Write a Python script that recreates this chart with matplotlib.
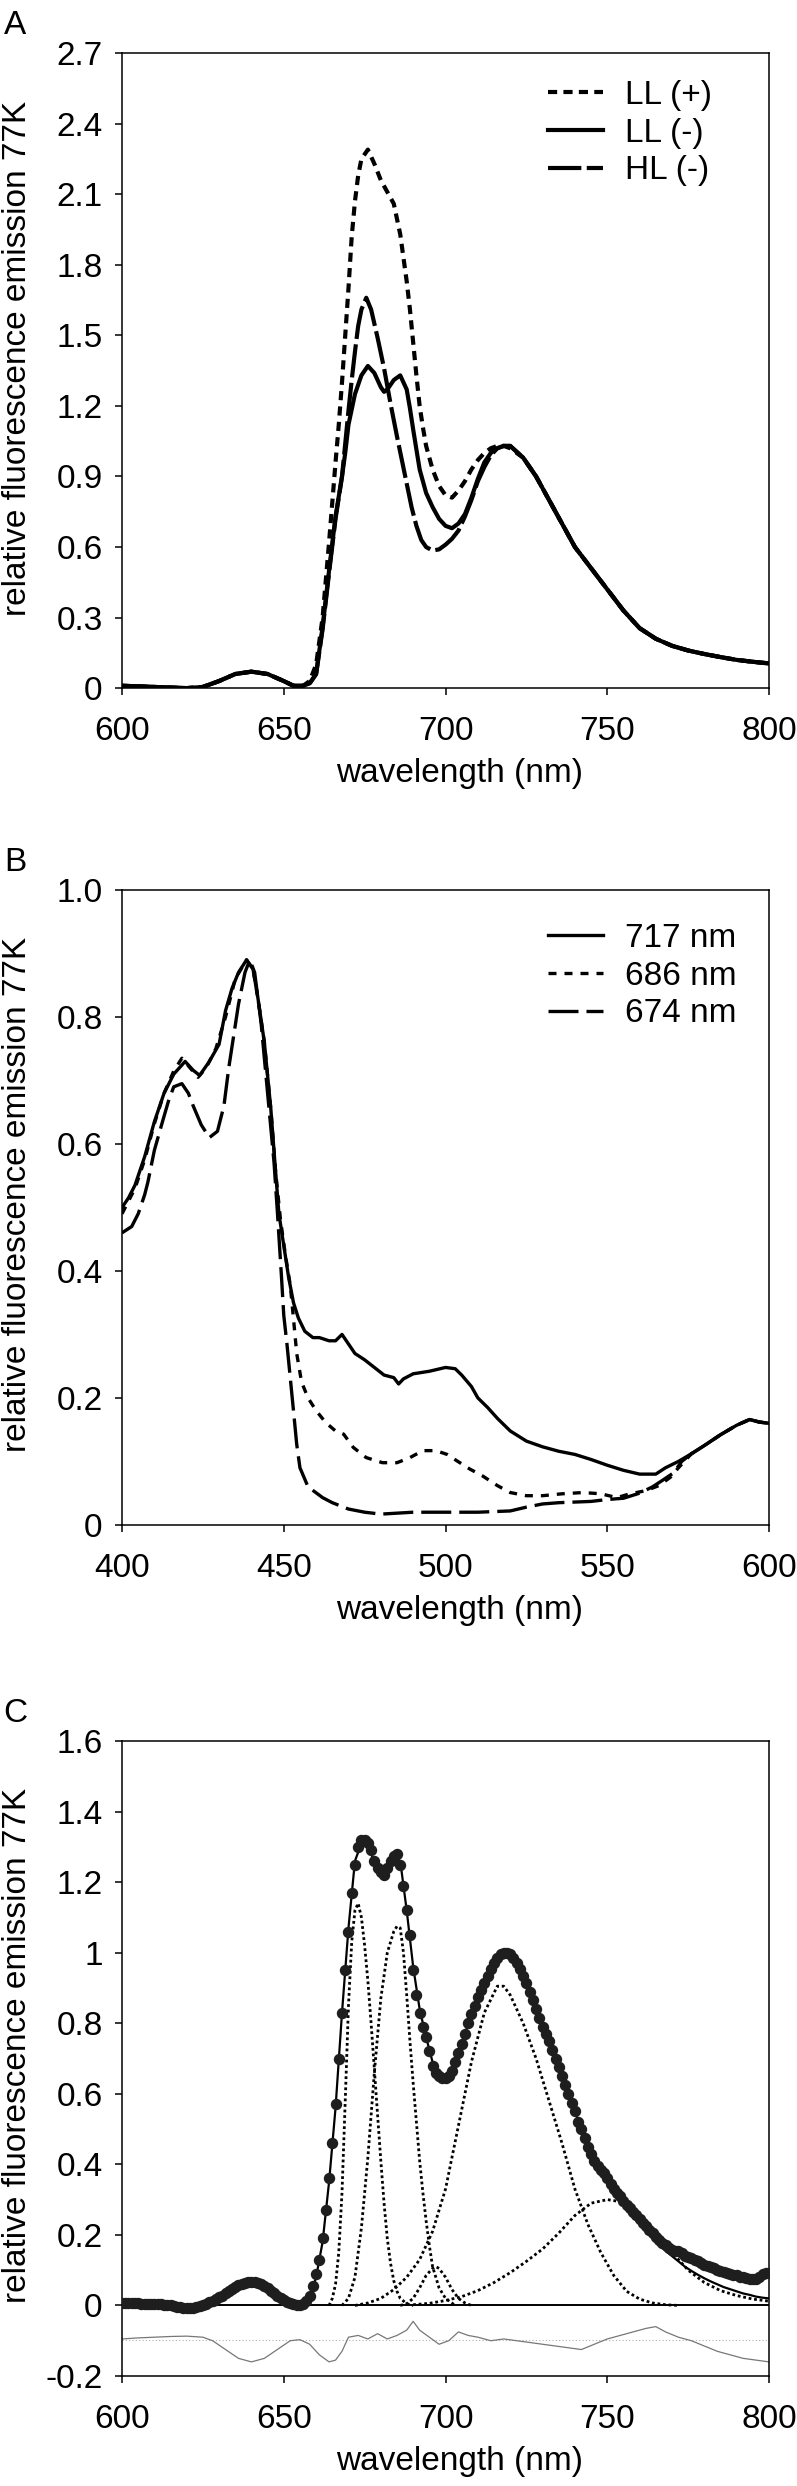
import matplotlib
matplotlib.use("Agg")
import matplotlib.pyplot as plt

plt.rcParams['font.family'] = ['Liberation Sans', 'DejaVu Sans']
FS = 24

# ---------------- Panel A data ----------------
a_llp_x = [600, 610, 620, 625, 630, 635, 640, 645, 650, 653, 656, 658, 660, 662, 664, 666, 667, 668, 669, 670,
           671, 672, 673, 674, 676, 678, 680, 682, 684, 686, 687, 688, 689, 690, 691, 692, 693, 694, 696, 698,
           700, 702, 704, 706, 708, 710, 712, 714, 716, 718, 720, 724, 728, 732, 736, 740, 745, 750, 755, 760,
           765, 770, 775, 780, 785, 790, 795, 800]
a_llp_y = [0.01, 0.005, 0.0, 0.005, 0.03, 0.06, 0.07, 0.06, 0.03, 0.01, 0.01, 0.03, 0.10, 0.30, 0.62, 0.96, 1.12, 1.30, 1.50, 1.70,
           1.92, 2.07, 2.18, 2.25, 2.29, 2.23, 2.16, 2.11, 2.06, 1.93, 1.83, 1.73, 1.61, 1.47, 1.33, 1.20, 1.11, 1.03, 0.93, 0.86,
           0.82, 0.81, 0.84, 0.88, 0.93, 0.97, 1.00, 1.02, 1.03, 1.03, 1.02, 0.98, 0.90, 0.80, 0.70, 0.60, 0.51, 0.42, 0.33, 0.255,
           0.21, 0.18, 0.16, 0.145, 0.132, 0.12, 0.112, 0.105]

a_llm_x = [600, 610, 620, 625, 630, 635, 640, 645, 650, 653, 656, 658, 660, 662, 664, 666, 668, 669, 670, 672,
           674, 676, 678, 680, 681, 682, 684, 686, 688, 689, 690, 692, 694, 696, 698, 700, 702, 704, 706, 708,
           710, 712, 714, 716, 718, 720, 724, 728, 732, 736, 740, 745, 750, 755, 760, 765, 770, 775, 780, 785,
           790, 795, 800]
a_llm_y = [0.01, 0.005, 0.0, 0.005, 0.03, 0.06, 0.07, 0.06, 0.03, 0.01, 0.01, 0.02, 0.06, 0.26, 0.50, 0.73, 0.90, 1.00, 1.12, 1.25,
           1.33, 1.37, 1.34, 1.28, 1.26, 1.27, 1.31, 1.33, 1.27, 1.19, 1.10, 0.93, 0.83, 0.77, 0.72, 0.69, 0.68, 0.70, 0.74, 0.81,
           0.89, 0.96, 1.00, 1.02, 1.03, 1.03, 0.98, 0.90, 0.80, 0.70, 0.60, 0.51, 0.42, 0.33, 0.255, 0.21, 0.18, 0.16, 0.145, 0.132,
           0.12, 0.112, 0.105]

a_hlm_x = [600, 610, 620, 625, 630, 635, 640, 645, 650, 653, 656, 658, 660, 662, 664, 666, 668, 669, 670, 671,
           672, 673, 674, 675.5, 677, 679, 681, 683, 685, 686.5, 688, 689.5, 691, 692.5, 694, 696, 698, 700, 702, 704,
           706, 708, 710, 712, 714, 716, 718, 720, 724, 728, 732, 736, 740, 745, 750, 755, 760, 765, 770, 775,
           780, 785, 790, 795, 800]
a_hlm_y = [0.01, 0.005, 0.0, 0.005, 0.03, 0.06, 0.07, 0.06, 0.03, 0.01, 0.01, 0.02, 0.06, 0.25, 0.49, 0.72, 0.90, 1.04, 1.18, 1.31,
           1.43, 1.54, 1.61, 1.66, 1.61, 1.49, 1.36, 1.21, 1.07, 0.97, 0.87, 0.77, 0.69, 0.63, 0.60, 0.585, 0.59, 0.61, 0.635, 0.67,
           0.73, 0.80, 0.88, 0.94, 0.99, 1.02, 1.03, 1.03, 0.98, 0.90, 0.80, 0.70, 0.60, 0.51, 0.42, 0.33, 0.255, 0.21, 0.18, 0.16,
           0.145, 0.132, 0.12, 0.112, 0.105]

a_labels = ['LL (+)', 'LL (-)', 'HL (-)']
a_xticks = [600, 650, 700, 750, 800]
a_yticks = [0, 0.3, 0.6, 0.9, 1.2, 1.5, 1.8, 2.1, 2.4, 2.7]
a_yticklabels = ['0', '0.3', '0.6', '0.9', '1.2', '1.5', '1.8', '2.1', '2.4', '2.7']

# ---------------- Panel B data ----------------
b717_x = [400, 402, 404, 407, 410, 413, 416, 419.5, 422, 424, 427, 430, 432, 434, 436, 438.5, 440.5, 442, 444, 446,
          447.5, 448.5, 450, 451.5, 453, 454.5, 456.5, 459, 461, 464, 466, 468, 470, 472, 475, 478, 481, 484, 485.5, 487,
          490, 495, 500, 503, 505, 508, 510, 513, 516, 520, 525, 530, 535, 540, 545, 550, 555, 560, 565, 568,
          572, 576, 580, 585, 590, 594, 597, 600]
b717_y = [0.50, 0.515, 0.535, 0.58, 0.635, 0.68, 0.71, 0.73, 0.716, 0.708, 0.73, 0.757, 0.81, 0.845, 0.87, 0.89, 0.875, 0.83, 0.76, 0.655,
          0.555, 0.49, 0.44, 0.39, 0.35, 0.326, 0.305, 0.295, 0.295, 0.29, 0.29, 0.30, 0.285, 0.27, 0.26, 0.248, 0.236, 0.232, 0.222, 0.23,
          0.238, 0.242, 0.248, 0.246, 0.236, 0.218, 0.20, 0.185, 0.168, 0.148, 0.132, 0.123, 0.116, 0.111, 0.103, 0.094, 0.086, 0.08, 0.08, 0.09,
          0.10, 0.112, 0.125, 0.142, 0.157, 0.166, 0.162, 0.16]

b686_x = [400, 404, 407, 410, 413, 416, 418.5, 421, 423.5, 426, 429, 432, 435, 438.5, 440.5, 442, 444, 446, 447.5, 449,
          450.5, 452, 453, 454, 455.5, 457.5, 460, 463, 466, 468.5, 471.5, 475.5, 480.5, 485, 489, 493, 497, 500.5, 503.5, 507.5,
          511.5, 516, 520, 525, 530, 536, 542.5, 548, 553, 557, 562, 566, 569.5, 572, 576, 580, 585, 590, 594, 597,
          600]
b686_y = [0.49, 0.53, 0.575, 0.632, 0.68, 0.715, 0.735, 0.72, 0.705, 0.72, 0.75, 0.80, 0.86, 0.89, 0.875, 0.83, 0.76, 0.655, 0.555, 0.48,
          0.425, 0.378, 0.325, 0.27, 0.225, 0.20, 0.18, 0.161, 0.148, 0.143, 0.122, 0.106, 0.098, 0.098, 0.106, 0.117, 0.117, 0.111, 0.101, 0.088,
          0.077, 0.062, 0.051, 0.046, 0.046, 0.049, 0.051, 0.049, 0.043, 0.049, 0.054, 0.062, 0.075, 0.09, 0.112, 0.125, 0.142, 0.157, 0.166, 0.162,
          0.16]

b674_x = [400, 403, 405, 407, 408, 410, 412.5, 414.5, 416, 418.5, 420.5, 422, 424.5, 427, 429.5, 431.5, 433, 434.5, 436, 438,
          439.5, 441, 443, 445, 447, 448, 449.3, 450, 451, 452, 453, 454, 455, 457.5, 462, 465, 470, 475, 480, 490,
          500, 510, 520, 525, 530, 535, 540, 545, 550, 555, 560, 564, 567, 570.5, 573, 576, 580, 585, 590, 594,
          597, 600]
b674_y = [0.46, 0.47, 0.49, 0.52, 0.54, 0.59, 0.635, 0.67, 0.69, 0.695, 0.68, 0.66, 0.63, 0.61, 0.62, 0.66, 0.72, 0.77, 0.82, 0.87,
          0.89, 0.87, 0.79, 0.68, 0.57, 0.495, 0.39, 0.33, 0.284, 0.232, 0.18, 0.127, 0.09, 0.06, 0.043, 0.035, 0.025, 0.02, 0.017, 0.02,
          0.02, 0.02, 0.022, 0.028, 0.033, 0.035, 0.036, 0.037, 0.04, 0.042, 0.05, 0.06, 0.07, 0.082, 0.10, 0.112, 0.125, 0.142, 0.157, 0.166,
          0.162, 0.16]

b_labels = ['717 nm', '686 nm', '674 nm']
b_xticks = [400, 450, 500, 550, 600]
b_yticks = [0, 0.2, 0.4, 0.6, 0.8, 1.0]
b_yticklabels = ['0', '0.2', '0.4', '0.6', '0.8', '1.0']

# ---------------- Panel C data ----------------
c_data_x = list(range(600, 801))
c_data_y = [0.008, 0.008, 0.007, 0.007, 0.006, 0.006, 0.005, 0.005, 0.004, 0.004,      # 600-609
            0.004, 0.003, 0.003, 0.002, 0.002, 0.000, -0.002, -0.003, -0.004, -0.006,  # 610-619
            -0.008, -0.008, -0.006, -0.004, -0.002, 0.000, 0.004, 0.009, 0.014, 0.018,  # 620-629
            0.023, 0.028, 0.034, 0.040, 0.046, 0.052, 0.057, 0.061, 0.064, 0.066,       # 630-639
            0.067, 0.066, 0.064, 0.060, 0.055, 0.049, 0.042, 0.035, 0.028, 0.021,       # 640-649
            0.015, 0.010, 0.006, 0.003, 0.001, 0.000, 0.003, 0.012, 0.028, 0.055,       # 650-659
            0.090, 0.130, 0.190, 0.270, 0.360, 0.460, 0.570, 0.700, 0.830, 0.950,       # 660-669
            1.060, 1.170, 1.250, 1.300, 1.320, 1.320, 1.310, 1.290, 1.260, 1.240,       # 670-679
            1.230, 1.220, 1.240, 1.260, 1.275, 1.280, 1.250, 1.190, 1.120, 1.050,       # 680-689
            0.950, 0.880, 0.830, 0.790, 0.760, 0.720, 0.680, 0.660, 0.650, 0.645,       # 690-699
            0.645, 0.650, 0.665, 0.690, 0.715, 0.740, 0.770, 0.800, 0.825, 0.850,       # 700-709
            0.875, 0.895, 0.915, 0.935, 0.955, 0.970, 0.985, 0.995, 1.000, 1.000,       # 710-719
            0.995, 0.985, 0.970, 0.955, 0.935, 0.915, 0.890, 0.865, 0.840, 0.815,       # 720-729
            0.790, 0.770, 0.750, 0.725, 0.700, 0.675, 0.650, 0.625, 0.600, 0.575,       # 730-739
            0.550, 0.520, 0.500, 0.475, 0.450, 0.430, 0.410, 0.395, 0.385, 0.375,       # 740-749
            0.360, 0.345, 0.330, 0.320, 0.310, 0.295, 0.285, 0.275, 0.265, 0.255,       # 750-759
            0.245, 0.235, 0.225, 0.215, 0.205, 0.195, 0.185, 0.178, 0.170, 0.163,       # 760-769
            0.158, 0.155, 0.153, 0.148, 0.140, 0.137, 0.135, 0.130, 0.125, 0.120,       # 770-779
            0.115, 0.112, 0.108, 0.105, 0.100, 0.098, 0.095, 0.092, 0.090, 0.087,       # 780-789
            0.085, 0.082, 0.080, 0.078, 0.076, 0.075, 0.074, 0.080, 0.090, 0.092,       # 790-799
            0.093]                                                                      # 800

c_fit_x = list(range(656, 801, 2))
c_fit_y = [0.0, 0.02, 0.08, 0.18, 0.35, 0.56, 0.83, 1.07, 1.26, 1.31,
           1.30, 1.26, 1.23, 1.23, 1.27, 1.26, 1.12, 0.96, 0.84, 0.76,
           0.69, 0.65, 0.645, 0.665, 0.715, 0.77, 0.825, 0.875, 0.915, 0.955,
           0.985, 1.0, 0.995, 0.97, 0.935, 0.89, 0.84, 0.79, 0.75, 0.70,
           0.65, 0.60, 0.55, 0.50, 0.455, 0.415, 0.38, 0.35, 0.32, 0.295,
           0.27, 0.25, 0.23, 0.21, 0.19, 0.17, 0.155, 0.14, 0.125, 0.11,
           0.098, 0.087, 0.077, 0.068, 0.06, 0.052, 0.046, 0.04, 0.034, 0.03,
           0.025, 0.022, 0.02]

c_g1_x = [664, 665, 666, 667, 668, 669, 670, 671, 672, 673, 674, 675, 676, 677, 678, 679, 680, 681, 682, 683,
          684, 685, 686, 688, 690]
c_g1_y = [0.0, 0.02, 0.06, 0.15, 0.32, 0.58, 0.85, 1.03, 1.12, 1.14, 1.10, 1.02, 0.92, 0.80, 0.67, 0.54, 0.41, 0.29, 0.19, 0.12,
          0.07, 0.04, 0.02, 0.005, 0.0]
c_g2_x = [668, 670, 672, 674, 676, 678, 680, 682, 684, 685, 686, 687, 688, 689, 690, 691, 692, 693, 694, 695,
          696, 698, 700, 703]
c_g2_y = [0.0, 0.02, 0.08, 0.22, 0.42, 0.66, 0.87, 1.00, 1.06, 1.075, 1.07, 1.00, 0.88, 0.75, 0.63, 0.52, 0.41, 0.32, 0.24, 0.17,
          0.11, 0.05, 0.02, 0.0]
c_g3_x = [686, 688, 690, 692, 694, 696, 697, 698, 700, 702, 704, 706, 708]
c_g3_y = [0.0, 0.005, 0.02, 0.05, 0.085, 0.105, 0.11, 0.105, 0.08, 0.045, 0.02, 0.007, 0.0]
c_g4_x = [672, 676, 680, 684, 688, 692, 696, 700, 704, 708, 712, 716, 718, 720, 724, 728, 732, 736, 740, 744,
          748, 752, 756, 760, 764, 768, 772]
c_g4_y = [0.0, 0.007, 0.02, 0.045, 0.08, 0.13, 0.21, 0.33, 0.51, 0.69, 0.83, 0.905, 0.905, 0.88, 0.80, 0.70, 0.58, 0.46, 0.33, 0.23,
          0.15, 0.085, 0.04, 0.018, 0.007, 0.002, 0.0]
c_g5_x = [690, 695, 700, 705, 710, 715, 720, 725, 730, 735, 740, 745, 750, 755, 760, 765, 770, 775, 780, 785,
          790, 795, 800]
c_g5_y = [0.002, 0.006, 0.014, 0.025, 0.042, 0.065, 0.093, 0.125, 0.16, 0.205, 0.255, 0.29, 0.30, 0.293, 0.26, 0.21, 0.15, 0.10, 0.065, 0.042,
          0.028, 0.018, 0.012]

c_res_x = [600, 605, 610, 615, 620, 625, 628, 632, 636, 640, 644, 648, 652, 655, 658, 661, 664, 666, 668, 670,
           673, 676, 679, 682, 685, 688, 690, 692, 695, 698, 701, 704, 707, 710, 714, 718, 722, 726, 730, 734,
           738, 742, 746, 750, 754, 758, 762, 765, 768, 772, 776, 780, 784, 788, 792, 796, 800]
c_res_y = [-0.095, -0.092, -0.09, -0.088, -0.087, -0.09, -0.1, -0.125, -0.15, -0.16, -0.15, -0.125, -0.1, -0.097, -0.11, -0.14, -0.16, -0.155, -0.13, -0.09,
           -0.085, -0.095, -0.08, -0.095, -0.085, -0.07, -0.045, -0.07, -0.09, -0.11, -0.1, -0.075, -0.085, -0.09, -0.1, -0.095, -0.1, -0.105, -0.11, -0.115,
           -0.12, -0.125, -0.11, -0.095, -0.085, -0.075, -0.065, -0.06, -0.075, -0.09, -0.1, -0.115, -0.13, -0.14, -0.15, -0.155, -0.16]
c_res_ref = -0.097

c_xticks = [600, 650, 700, 750, 800]
c_yticks = [-0.2, 0, 0.2, 0.4, 0.6, 0.8, 1.0, 1.2, 1.4, 1.6]
c_yticklabels = ['-0.2', '0', '0.2', '0.4', '0.6', '0.8', '1', '1.2', '1.4', '1.6']

# ---------------- Figure ----------------
fig = plt.figure(figsize=(7.97, 24.86), dpi=100)
L, W, H = 0.1531, 0.8118, 0.2554
axA = fig.add_axes([L, 0.7232, W, H])
axB = fig.add_axes([L, 0.3866, W, H])
axC = fig.add_axes([L, 0.04425, W, H])


def style(ax, xlim, xticks, ylim, yticks, yticklabels, letter):
    ax.set_xlim(*xlim)
    ax.set_ylim(*ylim)
    ax.set_xticks(xticks)
    ax.set_xticklabels([str(t) for t in xticks])
    ax.set_yticks(yticks)
    ax.set_yticklabels(yticklabels)
    ax.tick_params(axis='both', direction='out', length=5, width=1.1, labelsize=FS, colors='black')
    ax.tick_params(axis='x', pad=15)
    ax.tick_params(axis='y', pad=9)
    for s in ax.spines.values():
        s.set_linewidth(1.1)
    ax.set_xlabel('wavelength (nm)', fontsize=FS)
    ax.xaxis.label.set_va('center')
    ax.xaxis.set_label_coords(0.522, -0.135)
    ax.set_ylabel('relative fluorescence emission 77K', fontsize=FS)
    ax.yaxis.label.set_va('center')
    ax.yaxis.set_label_coords(-0.161, 0.52)
    ax.text(-0.165, 1.044, letter, transform=ax.transAxes, fontsize=FS, ha='center', va='center')


# Panel A
lw_a = 3.0
axA.plot(a_llp_x, a_llp_y, color='black', lw=lw_a, linestyle=(0, (2.2, 1.5)), label=a_labels[0])
axA.plot(a_llm_x, a_llm_y, color='black', lw=lw_a, linestyle='-', label=a_labels[1])
axA.plot(a_hlm_x, a_hlm_y, color='black', lw=lw_a, linestyle=(0, (8, 1.3)), label=a_labels[2])
style(axA, (600, 800), a_xticks, (0, 2.7), a_yticks, a_yticklabels, 'A')
axA.legend(loc='upper left', bbox_to_anchor=(0.658, 0.958), frameon=False, fontsize=FS,
           handlelength=1.65, handletextpad=0.68, labelspacing=0.2, borderpad=0, borderaxespad=0)

# Panel B
lw_b = 2.4
axB.plot(b717_x, b717_y, color='black', lw=lw_b, linestyle='-', label=b_labels[0])
axB.plot(b686_x, b686_y, color='black', lw=lw_b, linestyle=(0, (2.4, 2.4)), label=b_labels[1])
axB.plot(b674_x, b674_y, color='black', lw=lw_b, linestyle=(0, (9, 2.4)), label=b_labels[2])
style(axB, (400, 600), b_xticks, (0, 1.0), b_yticks, b_yticklabels, 'B')
axB.legend(loc='upper left', bbox_to_anchor=(0.658, 0.948), frameon=False, fontsize=FS,
           handlelength=1.65, handletextpad=0.68, labelspacing=0.2, borderpad=0, borderaxespad=0)

# Panel C
axC.axhline(0, color='black', lw=1.4, zorder=2)
axC.axhline(c_res_ref, color='#b0b0b0', lw=0.8, linestyle=(0, (1, 2)), zorder=1)
axC.plot(c_res_x, c_res_y, color='#777777', lw=0.9, zorder=2)
for gx, gy in [(c_g1_x, c_g1_y), (c_g2_x, c_g2_y), (c_g3_x, c_g3_y), (c_g4_x, c_g4_y), (c_g5_x, c_g5_y)]:
    axC.plot(gx, gy, color='black', lw=2.0, linestyle=(0, (1.0, 1.0)), zorder=3)
axC.plot(c_fit_x, c_fit_y, color='black', lw=1.6, zorder=4)
axC.plot(c_data_x, c_data_y, linestyle='none', marker='o', ms=7.2, color='#1e1e1e', mec='#1e1e1e', zorder=5)
style(axC, (600, 800), c_xticks, (-0.2, 1.6), c_yticks, c_yticklabels, 'C')

fig.savefig('out.png', dpi=100)
